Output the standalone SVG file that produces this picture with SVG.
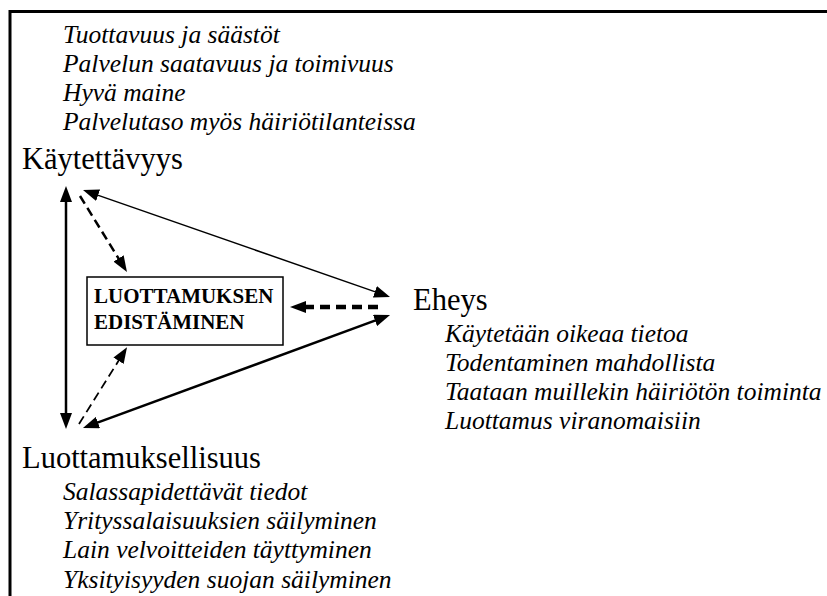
<svg xmlns="http://www.w3.org/2000/svg" width="827" height="596" viewBox="0 0 827 596">
<style>
text{font-family:"Liberation Serif","Times New Roman",serif;fill:#000}
.it{font-style:italic;font-size:25.5px}
.hd{font-size:30.5px}
.bx{font-weight:bold;font-size:21px}
.ln{stroke:#000;fill:none}
</style>
<defs>
<marker id="ah" markerUnits="userSpaceOnUse" markerWidth="16" markerHeight="12" refX="2" refY="6" orient="auto-start-reverse" viewBox="0 0 16 12">
<path d="M0,0 L16,6 L0,12 z" fill="#000"/>
</marker>
</defs>
<rect width="827" height="596" fill="#fff"/>
<path d="M10,596 L10,11.5 L827,11.5" class="ln" stroke-width="3"/>
<g id="kaytettavyys">
<text class="it" x="63" y="43">Tuottavuus ja säästöt</text>
<text class="it" x="63" y="72">Palvelun saatavuus ja toimivuus</text>
<text class="it" x="63" y="101">Hyvä maine</text>
<text class="it" x="63" y="130">Palvelutaso myös häiriötilanteissa</text>
<text class="hd" x="22" y="169">Käytettävyys</text>
</g>
<g id="box">
<rect x="87" y="277" width="196" height="68" fill="#fff" stroke="#000" stroke-width="1.5"/>
<text class="bx" x="94" y="303">LUOTTAMUKSEN</text>
<text class="bx" x="94" y="329">EDISTÄMINEN</text>
</g>
<g id="eheys">
<text class="hd" x="413" y="310">Eheys</text>
<text class="it" x="445" y="342">Käytetään oikeaa tietoa</text>
<text class="it" x="445" y="371">Todentaminen mahdollista</text>
<text class="it" x="445" y="400">Taataan muillekin häiriötön toiminta</text>
<text class="it" x="445" y="429">Luottamus viranomaisiin</text>
</g>
<g id="luottamuksellisuus">
<text class="hd" x="22" y="468">Luottamuksellisuus</text>
<text class="it" x="63" y="500">Salassapidettävät tiedot</text>
<text class="it" x="63" y="529">Yrityssalaisuuksien säilyminen</text>
<text class="it" x="63" y="558">Lain velvoitteiden täyttyminen</text>
<text class="it" x="63" y="588">Yksityisyyden suojan säilyminen</text>
</g>
<g id="connectors">
<line class="ln" x1="66" y1="200" x2="66" y2="415" stroke-width="2.5" marker-start="url(#ah)" marker-end="url(#ah)"/>
<line class="ln" x1="96.2" y1="194.6" x2="376.8" y2="292.4" stroke-width="1.5" marker-start="url(#ah)" marker-end="url(#ah)"/>
<line class="ln" x1="96.1" y1="423.2" x2="376.9" y2="319.8" stroke-width="2.5" marker-start="url(#ah)" marker-end="url(#ah)"/>
<line class="ln" x1="80" y1="196" x2="119.6" y2="260.1" stroke-width="2.5" stroke-dasharray="9,5" marker-end="url(#ah)"/>
<line class="ln" x1="79" y1="424" x2="119.6" y2="359.1" stroke-width="1.8" stroke-dasharray="9,5" marker-end="url(#ah)"/>
<line class="ln" x1="378" y1="307" x2="304" y2="307" stroke-width="4.5" stroke-dasharray="10,6" marker-end="url(#ah)"/>
</g>
</svg>
